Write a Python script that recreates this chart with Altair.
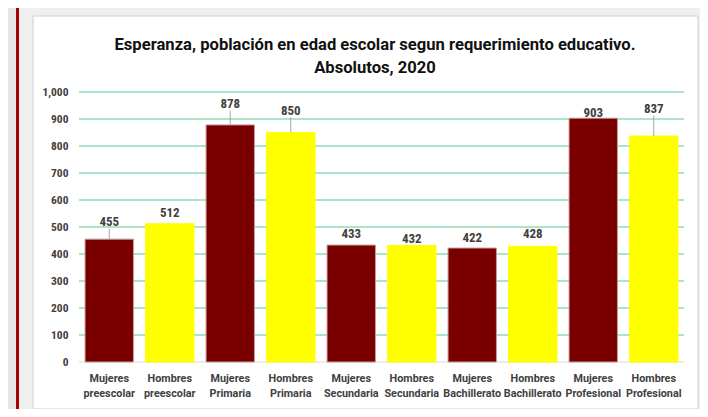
import altair as alt
import pandas as pd

# ---------------- data ----------------
categories = [
    "Mujeres preescolar", "Hombres preescolar",
    "Mujeres Primaria", "Hombres Primaria",
    "Mujeres Secundaria", "Hombres Secundaria",
    "Mujeres Bachillerato", "Hombres Bachillerato",
    "Mujeres Profesional", "Hombres Profesional",
]
sexes = ["Mujeres", "Hombres"] * 5
values = [455, 512, 878, 850, 433, 432, 422, 428, 903, 837]
# height (axis units) at which each value label sits in the reference
label_at = [518, 552, 955, 930, 474, 455, 459, 474, 922, 937]
y_ticks = [0, 100, 200, 300, 400, 500, 600, 700, 800, 900, 1000]
title_lines = [
    "Esperanza, población en edad escolar segun requerimiento educativo.",
    "Absolutos, 2020",
]

df = pd.DataFrame({"cat": categories, "sexo": sexes, "valor": values, "etiqueta": label_at})
grid_df = pd.DataFrame({"tick": y_ticks})
one = pd.DataFrame({"k": [0]})

FONT = "Roboto Condensed, Roboto, Liberation Sans, sans-serif"
FONT_W = "Roboto, Liberation Sans, sans-serif"
W, H = 605, 270

x_axis = alt.Axis(
    title=None, labelAngle=0, labelExpr="split(datum.label, ' ')",
    labelFont=FONT_W, labelFontSize=10.8, labelFontWeight="bold", labelColor="#404040",
    labelPadding=10, labelLineHeight=15, ticks=False, domain=False, zindex=1,
)
x_scale = alt.Scale(paddingInner=0.2, paddingOuter=0.1)
y_axis = alt.Axis(
    title=None, values=y_ticks, labelExpr="format(datum.value, ',d')",
    grid=False, ticks=False, domain=False,
    labelFont=FONT, labelFontSize=11.5, labelFontWeight="bold", labelColor="#404040",
    labelPadding=11, zindex=1,
)
y_scale = alt.Scale(domain=[0, 1000], nice=False, zero=True)

X = alt.X("cat:N", sort=categories, scale=x_scale, axis=x_axis)


def panel(x1, x2, y1, y2, **kw):
    return alt.Chart(one).mark_rect(**kw).encode(
        x=alt.value(x1), x2=alt.value(x2), y=alt.value(y1), y2=alt.value(y2)
    )


inner = panel(-60, 621, -84, 317, fill="#EFEFEF")
red_line = panel(-63, -60, -84, 317, fill="#A80000")
white_box = panel(-46, 619, -76, 317, fill="#FFFFFF", stroke="#D0D0D0", strokeWidth=1)


def title_line(txt, ypos):
    return alt.Chart(one).mark_text(
        font=FONT_W, fontSize=16.6, fontWeight="bold", color="#111111",
        align="center", baseline="middle",
    ).encode(x=alt.value(296), y=alt.value(ypos), text=alt.value(txt))


title1 = title_line(title_lines[0], -47)
title2 = title_line(title_lines[1], -24)

grid = alt.Chart(grid_df).mark_rule(strokeWidth=1.2).encode(
    y=alt.Y("tick:Q", scale=y_scale, axis=y_axis),
    color=alt.condition("datum.tick === 0", alt.value("#D9D9D9"), alt.value("#5BC98C")),
)

bars = alt.Chart(df).mark_bar(strokeWidth=1).encode(
    x=X,
    y=alt.Y("valor:Q", scale=y_scale, axis=y_axis),
    color=alt.Color("sexo:N", scale=alt.Scale(domain=["Mujeres", "Hombres"], range=["#7A0000", "#FFFF00"]), legend=None),
    stroke=alt.Stroke("sexo:N", scale=alt.Scale(domain=["Mujeres", "Hombres"], range=["#C49A9A", "#FFFF00"]), legend=None),
)

leaders = alt.Chart(df).transform_calculate(
    gap="datum.etiqueta - datum.valor", top="datum.etiqueta - 24"
).transform_filter("datum.gap > 55").mark_rule(color="#A6A6A6", strokeWidth=1).encode(
    x=X,
    y=alt.Y("valor:Q", scale=y_scale, axis=y_axis),
    y2="top:Q",
)

labels = alt.Chart(df).mark_text(
    font=FONT, fontSize=13, fontWeight="bold", color="#404040", baseline="middle"
).encode(
    x=X,
    y=alt.Y("etiqueta:Q", scale=y_scale, axis=y_axis),
    text="valor:Q",
)

chart = alt.layer(inner, red_line, white_box, title1, title2, grid, bars, leaders, labels).properties(
    width=W, height=H,
    autosize=alt.AutoSizeParams(type="none"),
    padding={"left": 71, "top": 84, "right": 16, "bottom": 47},
).configure(background="#E6E6E6").configure_view(stroke=None)

chart.save("out.html", embed_options={"renderer": "svg", "actions": False})
